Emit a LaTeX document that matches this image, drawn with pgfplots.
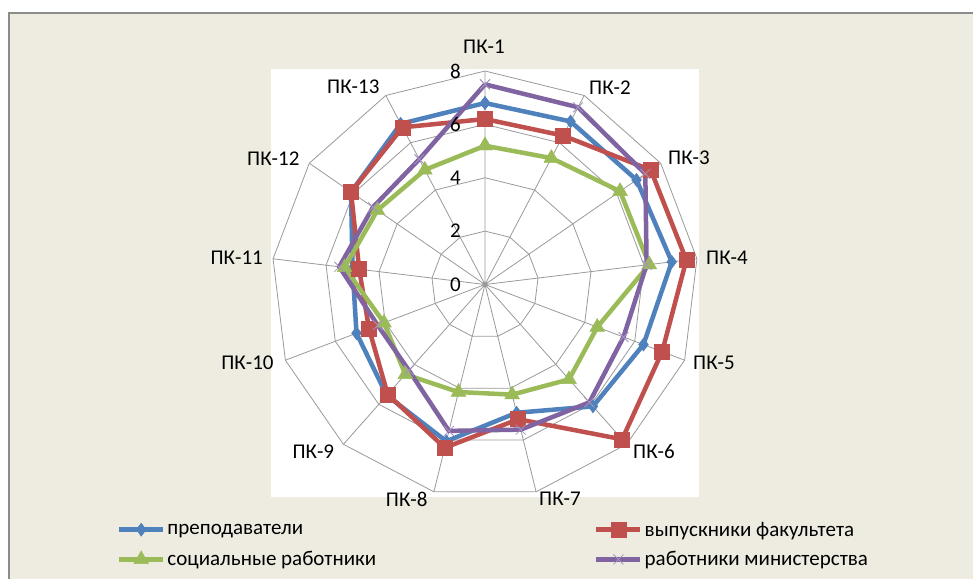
\documentclass[border=0pt]{standalone}
\usepackage{fontspec}
\setmainfont{Carlito}
\usepackage{pgfplots}
\pgfplotsset{compat=1.18}
\usepgfplotslibrary{polar}
\definecolor{bgc}{HTML}{EEECE1}
\definecolor{framec}{HTML}{8C8C8C}
\definecolor{gridc}{HTML}{9A9A9A}
\definecolor{cblue}{HTML}{4F81BD}
\definecolor{cred}{HTML}{C0504D}
\definecolor{cgreen}{HTML}{9BBB59}
\definecolor{cpurple}{HTML}{8064A2}
\begin{document}
\begin{tikzpicture}
\useasboundingbox (0pt,0pt) rectangle (973pt,579pt);
\fill[white] (0pt,0pt) rectangle (973pt,579pt);
\fill[bgc] (9pt,0pt) rectangle (973pt,566pt);
\draw[framec, line width=1.5pt] (9pt,0pt) -- (9pt,566pt) -- (973pt,566pt);
\fill[white] (271pt,82pt) rectangle (699pt,510pt);
\begin{polaraxis}[
  at={(485pt,294.5pt)}, anchor=center,
  scale only axis, width=427pt, height=427pt,
  xmin=0, xmax=360, ymin=0, ymax=8,
  clip=false,
  xtick={90,62.3077,34.6154,6.9231,339.2308,311.5385,283.8462,256.1538,228.4615,200.7692,173.0769,145.3846,117.6923},
  xticklabels={},
  ytick=\empty,
  xmajorgrids,
  major grid style={gridc, line width=0.8pt},
  axis line style={draw=none},
  tick style={draw=none},
  legend columns=2,
  legend cell align=left,
  legend style={at={(-0.3694,-0.046)}, anchor=north west, draw=none, fill=none,
    font=\fontsize{21}{24}\selectfont, row sep=10pt,
    /tikz/every even column/.append style={column sep=216pt}},
  legend image code/.code={
    \draw[mark repeat=2,mark phase=2,#1] plot coordinates {(0pt,0pt) (22pt,0pt) (44pt,0pt)};
  },
]
% grid polygons
\addplot[gridc, line width=0.8pt, no markers, forget plot] coordinates {(90,2)(62.3077,2)(34.6154,2)(6.9231,2)(339.2308,2)(311.5385,2)(283.8462,2)(256.1538,2)(228.4615,2)(200.7692,2)(173.0769,2)(145.3846,2)(117.6923,2)(90,2)};
\addplot[gridc, line width=0.8pt, no markers, forget plot] coordinates {(90,4)(62.3077,4)(34.6154,4)(6.9231,4)(339.2308,4)(311.5385,4)(283.8462,4)(256.1538,4)(228.4615,4)(200.7692,4)(173.0769,4)(145.3846,4)(117.6923,4)(90,4)};
\addplot[gridc, line width=0.8pt, no markers, forget plot] coordinates {(90,6)(62.3077,6)(34.6154,6)(6.9231,6)(339.2308,6)(311.5385,6)(283.8462,6)(256.1538,6)(228.4615,6)(200.7692,6)(173.0769,6)(145.3846,6)(117.6923,6)(90,6)};
\addplot[gridc, line width=0.8pt, no markers, forget plot] coordinates {(90,8)(62.3077,8)(34.6154,8)(6.9231,8)(339.2308,8)(311.5385,8)(283.8462,8)(256.1538,8)(228.4615,8)(200.7692,8)(173.0769,8)(145.3846,8)(117.6923,8)(90,8)};
% series
\addplot[cblue, line width=4.5pt, mark=diamond*, mark size=6.5pt, mark options={solid, line width=0.5pt}] coordinates {(90,6.8)(62.3077,6.9)(34.6154,6.9)(6.9231,7.05)(339.2308,6.35)(311.5385,6.1)(283.8462,4.95)(256.1538,6.05)(228.4615,5.55)(200.7692,5.15)(173.0769,5.0)(145.3846,6.1)(117.6923,6.8)(90,6.8)};
\addlegendentry{преподаватели}
\addplot[cred, line width=4.5pt, mark=square*, mark size=7.5pt, mark options={solid, line width=0.5pt}] coordinates {(90,6.2)(62.3077,6.3)(34.6154,7.55)(6.9231,7.6)(339.2308,7.1)(311.5385,7.75)(283.8462,5.2)(256.1538,6.3)(228.4615,5.5)(200.7692,4.65)(173.0769,4.75)(145.3846,6.1)(117.6923,6.65)(90,6.2)};
\addlegendentry{выпускники факультета}
\addplot[cgreen, line width=4.5pt, mark=triangle*, mark size=8.5pt, mark options={solid, line width=0.5pt}] coordinates {(90,5.2)(62.3077,5.35)(34.6154,6.15)(6.9231,6.2)(339.2308,4.5)(311.5385,4.75)(283.8462,4.25)(256.1538,4.15)(228.4615,4.5)(200.7692,4.05)(173.0769,5.3)(145.3846,4.9)(117.6923,4.85)(90,5.2)};
\addlegendentry{социальные работники}
\addplot[cpurple, line width=4.5pt, mark=x, mark size=7pt, mark options={solid, line width=0.8pt, draw=cpurple!70}] coordinates {(90,7.5)(62.3077,7.5)(34.6154,7.3)(6.9231,6.1)(339.2308,5.55)(311.5385,5.9)(283.8462,5.6)(256.1538,5.65)(228.4615,4.3)(200.7692,4.3)(173.0769,5.5)(145.3846,5.1)(117.6923,5.3)(90,7.5)};
\addlegendentry{работники министерства}
% radial tick labels
\node[anchor=east, font=\fontsize{21}{24}\selectfont, xshift=-24pt, inner sep=0pt] at (axis cs:90,0) {0};
\node[anchor=east, font=\fontsize{21}{24}\selectfont, xshift=-24pt, inner sep=0pt] at (axis cs:90,2) {2};
\node[anchor=east, font=\fontsize{21}{24}\selectfont, xshift=-24pt, inner sep=0pt] at (axis cs:90,4) {4};
\node[anchor=east, font=\fontsize{21}{24}\selectfont, xshift=-24pt, inner sep=0pt] at (axis cs:90,6) {6};
\node[anchor=east, font=\fontsize{21}{24}\selectfont, xshift=-24pt, inner sep=0pt] at (axis cs:90,8) {8};
\end{polaraxis}
% category labels
\begin{scope}[every node/.style={font=\fontsize{21}{24}\selectfont, inner sep=0pt, anchor=center}]
\node at (484pt,532.3pt) {ПК-1};
\node at (610pt,491.5pt) {ПК-2};
\node at (689pt,421.5pt) {ПК-3};
\node at (727pt,321.5pt) {ПК-4};
\node at (714pt,216.5pt) {ПК-5};
\node at (654pt,128pt) {ПК-6};
\node at (560pt,80pt) {ПК-7};
\node at (406.7pt,80pt) {ПК-8};
\node at (313.3pt,127.5pt) {ПК-9};
\node at (247.5pt,216.5pt) {ПК-10};
\node at (236.7pt,321.5pt) {ПК-11};
\node at (273.3pt,420pt) {ПК-12};
\node at (353.3pt,492.5pt) {ПК-13};
\end{scope}
\end{tikzpicture}
\end{document}
